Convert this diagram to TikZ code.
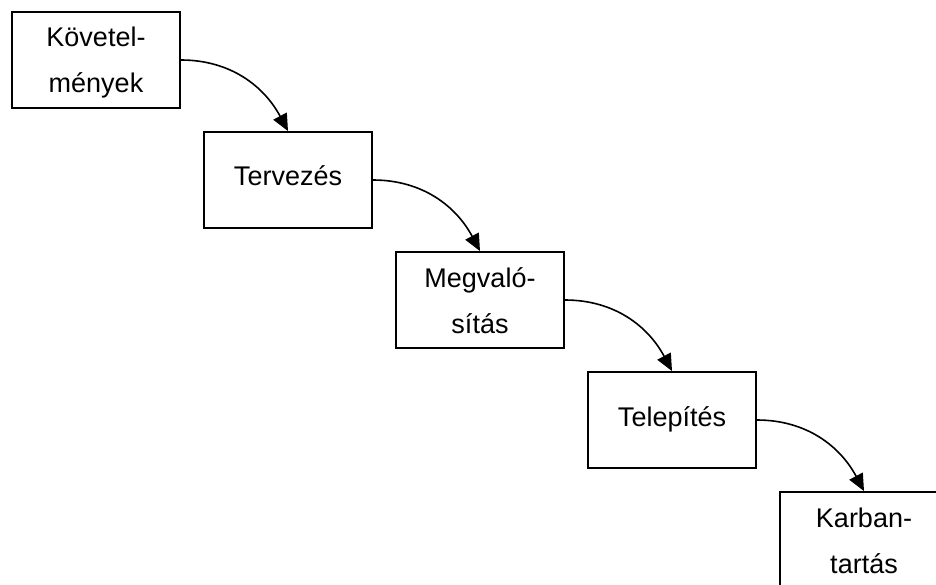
\documentclass[tikz,border=0pt]{standalone}
\usepackage{fontspec}
\setmainfont{Liberation Sans}
\usetikzlibrary{arrows.meta}
\begin{document}
\begin{tikzpicture}[x=1pt,y=-1pt,
  phase/.style={draw=black,line width=1.8pt,minimum width=168pt,minimum height=96pt,inner sep=0pt},
  phasetext/.style={anchor=base,align=center,inner sep=0pt,
    font=\fontsize{27}{46}\selectfont},
  flow/.style={line width=1.6pt,-{Triangle[length=17pt,width=15pt]}}]
  \useasboundingbox (0,0) rectangle (936,585);
  \clip (0,0) rectangle (936,585);
  % phase boxes, stepping down to the right
  \node[phase] (b1) at (96,60) {};
  \node[phase] (b2) at (288,180) {};
  \node[phase] (b3) at (480,300) {};
  \node[phase] (b4) at (672,420) {};
  \node[phase] (b5) at (864,540) {};
  % labels: the base anchor is the last line's baseline
  \node[phasetext] (t1) at ([yshift=-33pt]b1.center) {Követel-\\mények};
  \node[phasetext] (t2) at ([yshift=-6pt]b2.center) {Tervezés};
  \node[phasetext] (t3) at ([yshift=-33pt]b3.center) {Megvaló-\\sítás};
  \node[phasetext] (t4) at ([yshift=-6pt]b4.center) {Telepítés};
  \node[phasetext] (t5) at ([yshift=-33pt]b5.center) {Karban-\\tartás};
  % connectors
  \draw[flow] (b1.east) to[out=0,in=118] (b2.north);
  \draw[flow] (b2.east) to[out=0,in=118] (b3.north);
  \draw[flow] (b3.east) to[out=0,in=118] (b4.north);
  \draw[flow] (b4.east) to[out=0,in=118] (b5.north);
\end{tikzpicture}
\end{document}
